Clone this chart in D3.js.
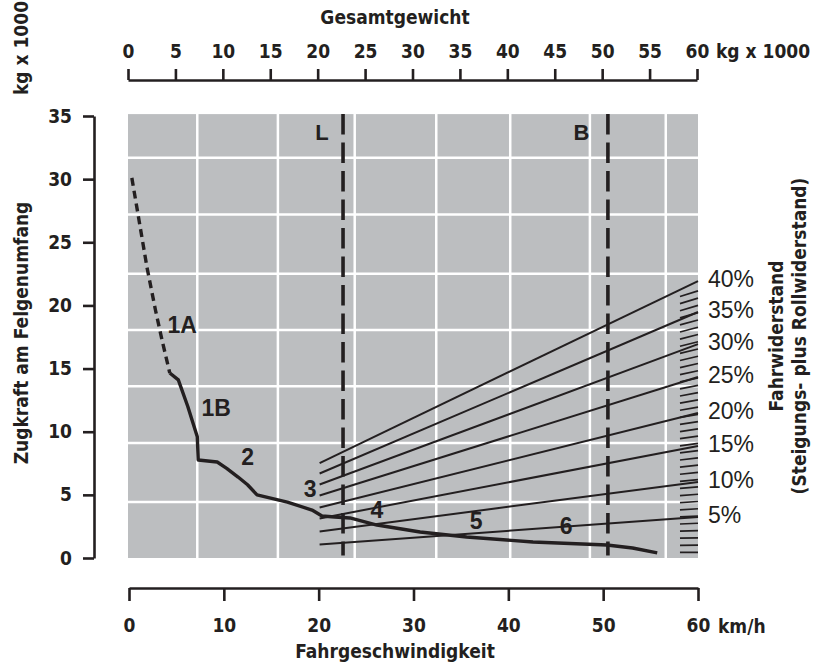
<!DOCTYPE html>
<html>
<head>
<meta charset="utf-8">
<script src="https://cdn.jsdelivr.net/npm/d3@7"></script>
<style>
	body { margin: 0; background: #fff; }
	svg text { fill: #231f20; }
	.cond { font-family: "Liberation Sans Narrow", "Arial Narrow", "DejaVu Sans Condensed", sans-serif; font-weight: bold; }
	.plain { font-family: "Liberation Sans", Arial, Helvetica, sans-serif; }
</style>
</head>
<body>
<svg id="chart" width="825" height="666"></svg>
<script>
// Axis ticks
var speedTicks = [0, 10, 20, 30, 40, 50, 60];
var weightTicks = [0, 5, 10, 15, 20, 25, 30, 35, 40, 45, 50, 55, 60];
var forceTicks = [0, 5, 10, 15, 20, 25, 30, 35];

// White grid of the grey field (km/h and kg x 1000 units)
var gridSpeeds = [7.2, 15.7, 23.8, 32.4, 40.2, 48.6, 56.6];
var gridForces = [4.43, 9.1, 13.6, 18.05, 22.5, 27.2, 31.7];

// Traction curve: [km/h, kg x 1000]
var curve1A = [[0.3, 30.1], [1.0, 27.0], [1.9, 23.0], [2.8, 19.6], [3.5, 17.2], [4.3, 14.65]];
var curveMain = [
	[4.3, 14.65], [5.2, 14.1], [6.2, 12.0], [7.2, 9.6], [7.3, 7.76], [9.3, 7.6], [10.3, 7.1],
	[11.5, 6.41], [12.5, 5.8], [13.5, 5.0], [16.7, 4.43], [19.3, 3.8], [20.35, 3.33], [21.7, 3.25],
	[23.3, 3.17], [26.15, 2.61], [30.7, 2.06], [35.6, 1.66], [42.6, 1.27], [50.4, 1.03], [53.1, 0.79], [55.7, 0.4]
];

// Driving resistance lines (grade + rolling)
var gradeLabels = ['40%', '35%', '30%', '25%', '20%', '15%', '10%', '5%'];
var gradeFrom = 20.1;
var gradeStart = [7.52, 6.69, 5.82, 4.95, 4.0, 3.13, 2.1, 1.07];
var gradeEnd = [21.93, 19.48, 16.94, 14.33, 11.48, 8.87, 6.02, 3.25];

// Gear labels
var gearLabels = ['1A', '1B', '2', '3', '4', '5', '6'];
var gearSpeed = [5.6, 9.2, 12.5, 19.1, 26.15, 36.6, 46.1];
var gearForce = [18.45, 11.9, 8.0, 5.46, 3.8, 2.93, 2.53];

// Limit speeds
var limitLabels = ['L', 'B'];
var limitSpeed = [22.57, 50.5];
var limitLabelSpeed = [20.35, 47.7];

var ink = '#231f20';
var svg = d3.select('#chart');

// Scales
	var x = d3.scaleLinear().domain([0, 60]).range([129, 698]);
	var xw = d3.scaleLinear().domain([0, 60]).range([128, 697]);
	var y = d3.scaleLinear().domain([0, 35]).range([558, 116]);

// Grey field and grid
	svg.append('rect')
		.attr('x', x(0) - 1).attr('y', y(35.15))
		.attr('width', x(60) - x(0) + 1).attr('height', y(0) - y(35.15))
		.attr('fill', '#bcbec0');

	svg.append('g').selectAll('line')
	.data(gridSpeeds)
	.join('line')
		.attr('x1', d => x(d)).attr('x2', d => x(d))
		.attr('y1', y(35.15)).attr('y2', y(0))
		.attr('stroke', '#fff').attr('stroke-width', 2.5);

	svg.append('g').selectAll('line')
	.data(gridForces)
	.join('line')
		.attr('x1', x(0) - 1).attr('x2', x(60))
		.attr('y1', d => y(d)).attr('y2', d => y(d))
		.attr('stroke', '#fff').attr('stroke-width', 2.5);

// Hatching at the right edge
	svg.append('g').selectAll('line')
	.data(d3.range(0.45, 21.3, 0.575))
	.join('line')
		.attr('x1', x(58.1)).attr('x2', x(60))
		.attr('y1', d => y(d - 0.011 * d * 1.9)).attr('y2', d => y(d))
		.attr('stroke', ink).attr('stroke-width', 1.7);

// Resistance lines
	svg.append('g').selectAll('line')
	.data(gradeLabels)
	.join('line')
		.attr('x1', x(gradeFrom)).attr('x2', x(60))
		.attr('y1', (d, i) => y(gradeStart[i])).attr('y2', (d, i) => y(gradeEnd[i]))
		.attr('stroke', ink).attr('stroke-width', 2);

	svg.append('g').selectAll('text')
	.data(gradeLabels)
	.join('text')
		.attr('class', 'plain')
		.attr('x', x(60) + 10)
		.attr('y', (d, i) => y(gradeEnd[i]) - 2)
		.attr('dy', '0.36em')
		.style('font-size', '23px')
		.text(d => d);

// Limit speed lines
	svg.append('g').selectAll('line')
	.data(limitSpeed)
	.join('line')
		.attr('x1', d => x(d)).attr('x2', d => x(d))
		.attr('y1', y(35.15)).attr('y2', y(0.2))
		.attr('stroke', ink).attr('stroke-width', 3.6)
		.attr('stroke-dasharray', '20.5 8');

	svg.append('g').selectAll('text')
	.data(limitLabels)
	.join('text')
		.attr('class', 'plain')
		.attr('x', (d, i) => x(limitLabelSpeed[i]))
		.attr('y', y(33.7))
		.attr('dy', '0.36em')
		.attr('text-anchor', 'middle')
		.style('font-size', '22px').style('font-weight', 'bold')
		.text(d => d);

// Traction curve
	var line = d3.line().x(d => x(d[0])).y(d => y(d[1]));

	svg.append('path')
		.attr('d', line(curve1A))
		.attr('fill', 'none').attr('stroke', ink).attr('stroke-width', 3.4)
		.attr('stroke-dasharray', '8 5');

	svg.append('path')
		.attr('d', line(curveMain))
		.attr('fill', 'none').attr('stroke', ink).attr('stroke-width', 3.4)
		.attr('stroke-linejoin', 'round');

	svg.append('g').selectAll('text')
	.data(gearLabels)
	.join('text')
		.attr('class', 'plain')
		.attr('x', (d, i) => x(gearSpeed[i]))
		.attr('y', (d, i) => y(gearForce[i]))
		.attr('dy', '0.36em')
		.attr('text-anchor', 'middle')
		.style('font-size', '23px').style('font-weight', 'bold')
		.text(d => d);

// Axes
	function styleAxis(g) {
		g.select('.domain').attr('stroke', ink).attr('stroke-width', 2.6);
		g.selectAll('.tick line').attr('stroke', ink).attr('stroke-width', 2.6);
		g.selectAll('.tick text').attr('class', 'cond').attr('fill', ink).style('font-size', '19px');
	}

	svg.append('g')
		.attr('transform', 'translate(0,80)')
		.call(d3.axisTop(xw).tickValues(weightTicks).tickSize(11).tickSizeOuter(0).tickPadding(11))
		.call(styleAxis);

	svg.append('g')
		.attr('transform', 'translate(0,588)')
		.call(d3.axisBottom(x).tickValues(speedTicks).tickSize(13).tickSizeOuter(0).tickPadding(18))
		.call(styleAxis);

	svg.append('g')
		.attr('transform', 'translate(94,0)')
		.call(d3.axisLeft(y).tickValues(forceTicks).tickSize(11).tickSizeOuter(0).tickPadding(11))
		.call(styleAxis);

// Axis titles and units
	function label(tx, ty, rot, anchor, size, txt) {
		svg.append('text')
			.attr('class', 'cond')
			.attr('transform', 'translate(' + tx + ',' + ty + ')' + (rot ? ' rotate(' + rot + ')' : ''))
			.attr('text-anchor', anchor)
			.style('font-size', size + 'px')
			.text(txt);
	}

	label(395, 24, 0, 'middle', 19, 'Gesamtgewicht');
	label(716, 58, 0, 'start', 19, 'kg x 1000');
	label(395, 658, 0, 'middle', 19, 'Fahrgeschwindigkeit');
	label(718, 633, 0, 'start', 19, 'km/h');
	label(28, 48, -90, 'middle', 19, 'kg x 1000');
	label(28, 333, -90, 'middle', 19, 'Zugkraft am Felgenumfang');
	label(783, 336, -90, 'middle', 19, 'Fahrwiderstand');
	label(806, 336, -90, 'middle', 19, '(Steigungs- plus Rollwiderstand)');
</script>
</body>
</html>
